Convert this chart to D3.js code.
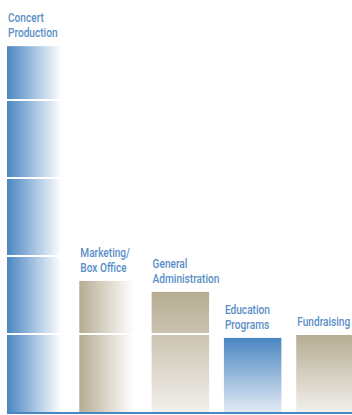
<!DOCTYPE html>
<html>
<head>
<meta charset="utf-8">
<script src="https://cdn.jsdelivr.net/npm/d3@7"></script>
<style>
  body { margin: 0; background: #fff; }
  svg { display: block; }
  .lbl { font-family: Roboto, "Liberation Sans", sans-serif; font-size: 12.5px; font-weight: 500; fill: #5a8ec7; }
</style>
</head>
<body>
<svg id="chart" width="352" height="415"></svg>
<script>
// share of expenses, in tens of percent (one gridline = 10%)
const categories = ["Concert Production", "Marketing/Box Office", "General Administration", "Education Programs", "Fundraising"];
const labelLines = [["Concert", "Production"], ["Marketing/", "Box Office"], ["General", "Administration"], ["Education", "Programs"], ["Fundraising"]];
const values = [46.9, 16.8, 15.4, 9.5, 9.9];
const gridTicks = [10, 20, 30, 40];
// fill style per bar: colour family and gradient direction
const fills = [["blue", "h"], ["tan", "h"], ["tan", "v"], ["blue", "v"], ["tan", "v"]];

const W = 352, H = 415;
const baseY = 412;
const lineH = 14.8;

const svg = d3.select("#chart");

const x = d3.scaleBand()
  .domain(categories)
  .range([7, 353.7])
  .paddingInner(0.205)
  .paddingOuter(0);

const y = d3.scaleLinear()
  .domain([0, 10])
  .range([baseY, baseY - 78]);

const colors = { blue: "#4a86c1", tan: "#b6ac92" };
const ends = { blue: "#e2eaf4", tan: "#f2f0ec" };

const defs = svg.append("defs");
fills.forEach(([c, dir], i) => {
  const g = defs.append("linearGradient")
    .attr("id", "g" + i)
    .attr("x1", 0).attr("y1", 0)
    .attr("x2", dir === "h" ? 1 : 0)
    .attr("y2", dir === "h" ? 0 : 1);
  g.append("stop").attr("offset", "0%").attr("stop-color", colors[c]);
  g.append("stop").attr("offset", dir === "h" ? "95%" : "100%").attr("stop-color", dir === "h" ? "#ffffff" : ends[c]);
});

svg.selectAll("rect.bar")
  .data(categories)
  .enter().append("rect")
  .attr("class", "bar")
  .attr("x", d => x(d))
  .attr("y", (d, i) => y(values[i]))
  .attr("width", x.bandwidth())
  .attr("height", (d, i) => baseY - y(values[i]))
  .attr("fill", (d, i) => `url(#g${i})`);

// white gridlines cut through the bars
svg.selectAll("line.grid")
  .data(gridTicks)
  .enter().append("line")
  .attr("x1", 0).attr("x2", W)
  .attr("y1", d => y(d)).attr("y2", d => y(d))
  .attr("stroke", "#fff")
  .attr("stroke-width", 2);

// baseline
svg.append("line")
  .attr("x1", 7).attr("x2", W)
  .attr("y1", baseY + 1).attr("y2", baseY + 1)
  .attr("stroke", "#4a86c1")
  .attr("stroke-width", 2);

// labels above each bar, squeezed to mimic the condensed face
categories.forEach((c, i) => {
  const lines = labelLines[i];
  const g = svg.append("g")
    .attr("transform", `translate(${x(c) + 1},${y(values[i]) - 9 - (lines.length - 1) * lineH}) scale(0.81,1)`);
  const t = g.append("text").attr("class", "lbl");
  lines.forEach((ln, j) => {
    t.append("tspan").attr("x", 0).attr("y", j * lineH).text(ln);
  });
});
</script>
</body>
</html>
